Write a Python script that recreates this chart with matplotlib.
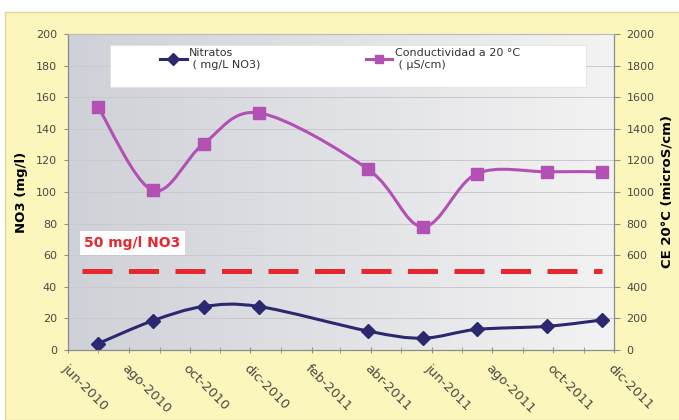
import numpy as np
import matplotlib
matplotlib.use("Agg")
from matplotlib import pyplot as plt
import matplotlib.dates as mdates
from matplotlib.path import Path
from matplotlib.patches import PathPatch, Rectangle
from matplotlib.lines import Line2D
from matplotlib.colors import LinearSegmentedColormap
from matplotlib.legend_handler import HandlerLine2D
from matplotlib.ticker import FuncFormatter, MultipleLocator
from datetime import datetime

# datos
fechas = ["2010-07-01", "2010-08-25", "2010-10-15", "2010-12-10", "2011-03-29",
          "2011-05-23", "2011-07-16", "2011-09-25", "2011-11-19"]
nitratos = [4, 18.5, 27.5, 27.5, 12, 7.5, 13, 15, 19]
conductividad = [1540, 1010, 1305, 1500, 1145, 780, 1115, 1128, 1128]
limite_fechas = ["2010-06-15", "2011-11-19"]
limite_valor = [50, 50]
meses = ["ene", "feb", "mar", "abr", "may", "jun", "jul", "ago", "sep", "oct", "nov", "dic"]

c_nit = "#2b2870"
c_ce = "#b250b4"
c_txt = "#4a4a42"


def to_num(lst):
    return mdates.date2num([datetime.strptime(s, "%Y-%m-%d") for s in lst])


def smooth_path(x, y):
    # bezier tipo catmull-rom, como las lineas suavizadas de excel
    p = np.column_stack([x, y]).astype(float)
    ext = np.vstack([p[0], p, p[-1]])
    verts = [p[0]]
    codes = [Path.MOVETO]
    for i in range(len(p) - 1):
        p0, p1, p2, p3 = ext[i], ext[i + 1], ext[i + 2], ext[i + 3]
        verts += [p1 + (p2 - p0) / 6, p2 - (p3 - p1) / 6, p2]
        codes += [Path.CURVE4] * 3
    return Path(verts, codes)


x = to_num(fechas)

fig = plt.figure(figsize=(6.79, 4.20), dpi=100, facecolor="white")
fig.patches.append(Rectangle((5 / 679, 0), 1, (420 - 12) / 420, transform=fig.transFigure,
                             facecolor="#fbf6bc", edgecolor="#dcd8a0", lw=1, zorder=-10))

ax = fig.add_axes([68 / 679, 70 / 420, 546 / 679, 316 / 420])
ax.set_facecolor("#e6e6ea")
grad = LinearSegmentedColormap.from_list("g", ["#cfd1d8", "#f3f3f3"])
ax.imshow(np.linspace(0, 1, 256).reshape(1, -1), extent=[0, 1, 0, 1], transform=ax.transAxes,
          aspect="auto", cmap=grad, zorder=0)

ax.set_xlim(to_num(["2010-06-01", "2011-12-01"]))
ax.set_ylim(0, 200)
ax.yaxis.set_major_locator(MultipleLocator(20))
ax.grid(axis="y", color="#c9c9cc", lw=0.7, zorder=1)

ax.plot(to_num(limite_fechas), limite_valor, color="#e8262d", lw=3.6,
        dashes=(6, 3.3), solid_capstyle="butt", dash_capstyle="butt", zorder=2)

ax.add_patch(PathPatch(smooth_path(x, nitratos), fill=False, edgecolor=c_nit, lw=2.2, zorder=3))
ax.plot(x, nitratos, ls="none", marker="D", ms=7, color=c_nit, zorder=4)

ax.text(0.03, 67.5, "50 mg/l NO3", transform=ax.get_yaxis_transform(), color="#e8262d",
        fontsize=10, fontweight="bold", va="center", ha="left", zorder=5,
        bbox=dict(facecolor="white", edgecolor="none", pad=3.5))

ax.xaxis.set_major_locator(mdates.MonthLocator(bymonth=[2, 4, 6, 8, 10, 12]))
ax.xaxis.set_minor_locator(mdates.MonthLocator())
ax.xaxis.set_major_formatter(FuncFormatter(
    lambda v, pos: "%s-%d" % (meses[mdates.num2date(v).month - 1], mdates.num2date(v).year)))
ax.tick_params(axis="x", which="both", direction="inout", length=5, color="#909090",
               labelsize=9.5, labelcolor=c_txt, pad=6)
ax.tick_params(axis="y", direction="out", length=3, color="#909090", labelsize=8,
               labelcolor=c_txt, pad=5)
plt.setp(ax.get_xticklabels(), rotation=-45, ha="left", va="top", rotation_mode="anchor")

ax2 = ax.twinx()
ax2.set_ylim(0, 2000)
ax2.yaxis.set_major_locator(MultipleLocator(200))
ax2.add_patch(PathPatch(smooth_path(x, conductividad), fill=False, edgecolor=c_ce, lw=2.2, zorder=3))
ax2.plot(x, conductividad, ls="none", marker="s", ms=8, color=c_ce, zorder=4)
ax2.tick_params(axis="y", direction="out", length=4, color="#909090", labelsize=8,
                labelcolor=c_txt, pad=5)

for a in (ax, ax2):
    a.spines["top"].set_color("#bdbdbd")
    a.spines["left"].set_color("#8a8a8a")
    a.spines["bottom"].set_color("#8a8a8a")
    a.spines["right"].set_color("#8a8a8a")

ax.set_ylabel("NO3 (mg/l)", fontsize=9.5, fontweight="bold", color="black", va="center")
ax.yaxis.set_label_coords(-(68 - 22) / 546, 0.5)
ax2.set_ylabel("CE 20°C (microS/cm)", fontsize=9.5, fontweight="bold", color="black",
               rotation=90, va="center")
ax2.yaxis.set_label_coords((667 - 68) / 546, 0.5)

# caja blanca de la leyenda
ax2.add_patch(Rectangle(((110 - 68) / 546, (350 - 87) / 316), (586 - 110) / 546, 42 / 316,
                        transform=ax2.transAxes, facecolor="white", edgecolor="#e0e0e0",
                        lw=0.5, zorder=6))
h_nit = Line2D([], [], color=c_nit, lw=2.2, marker="D", ms=6)
h_ce = Line2D([], [], color=c_ce, lw=2.2, marker="s", ms=6)
leg = ax2.legend([h_nit, h_ce], ["Nitratos\n ( mg/L NO3)", "Conductividad a 20 °C\n ( µS/cm)"],
                 ncol=2, loc="upper left", bbox_to_anchor=((160 - 68) / 546, (350 - 48) / 316),
                 frameon=False, fontsize=8, handlelength=2.4, handletextpad=0.2,
                 columnspacing=9.5, borderpad=0, borderaxespad=0, labelcolor="#333333",
                 handler_map={Line2D: HandlerLine2D(ypad=1.1)})
leg.set_zorder(7)

fig.savefig("out.png", dpi=100, facecolor=fig.get_facecolor())
